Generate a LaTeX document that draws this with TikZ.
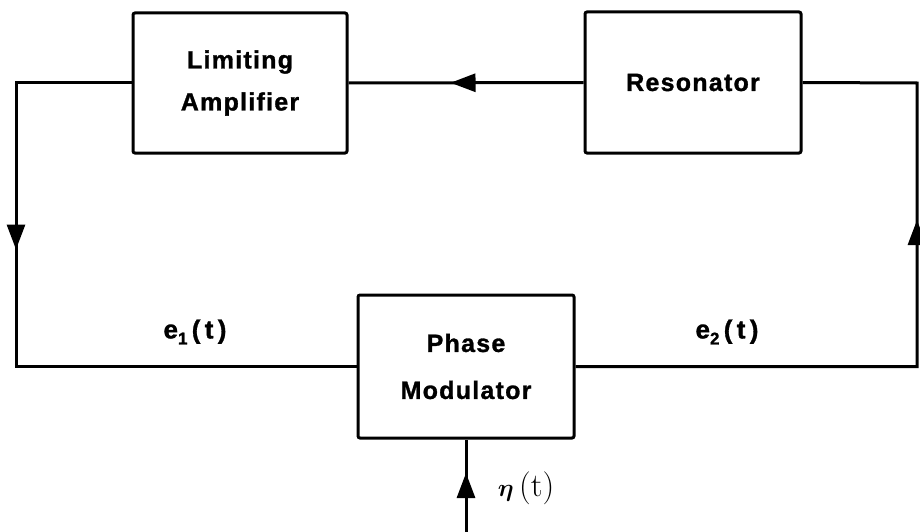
\documentclass[tikz,border=0pt]{standalone}
\usepackage{bm}
\usepackage{fontspec}
\newfontfamily\lab{Liberation Sans}[LetterSpace=5,BoldFeatures={FakeBold=1.2}]
\usetikzlibrary{arrows.meta,decorations.markings}
\begin{document}
\begin{tikzpicture}[x=1pt,y=-1pt,
  blk/.style={draw,line width=3pt,rounded corners=2pt,inner sep=0pt,align=center,
    font=\lab\bfseries\fontsize{25}{42}\selectfont},
  wire/.style={line width=3pt},
  tri/.style={postaction={decorate},decoration={markings,
    mark=at position #1 with {\arrow{Triangle[length=25pt,width=18pt]}}}},
  lbl/.style={inner sep=0pt,font=\lab\bfseries\fontsize{26}{30}\selectfont}]
\useasboundingbox (0,0) rectangle (920,532);
% blocks
\node[blk,minimum width=214pt,minimum height=140pt] (amp) at (240,83) {Limiting\\Amplifier};
\node[blk,minimum width=216pt,minimum height=141pt] (res) at (693,82.5) {Resonator};
\node[blk,minimum width=216pt,minimum height=143pt,font=\lab\bfseries\fontsize{25}{47}\selectfont] (pm) at (466,366.5) {Phase\\Modulator};
% corner coordinates
\coordinate (lc) at (16,83);
\coordinate (rc) at (917,83);
\coordinate (inp) at (466,532);
% connectors
\draw[wire,tri=133pt] (res.west) -- (amp.east);
\draw[wire,tri=282pt] (amp.west) -- (lc) |- (pm.west);
\draw[wire,tri=488pt] (pm.east) -| (rc) -- (res.east);
\draw[wire,tri=59pt] (inp) -- (pm.south);
% labels
\node[lbl] (e1) at (195,332) {e\raisebox{-6pt}{\fontsize{17}{17}\selectfont 1}\,(\,t\,)};
\node[lbl] (e2) at (727,332) {e\raisebox{-6pt}{\fontsize{17}{17}\selectfont 2}\,(\,t\,)};
\node[inner sep=0pt,font=\fontsize{33}{36}\selectfont] (eta) at (526,488) {$\bm{\eta}$\,(t)};
\end{tikzpicture}
\end{document}
